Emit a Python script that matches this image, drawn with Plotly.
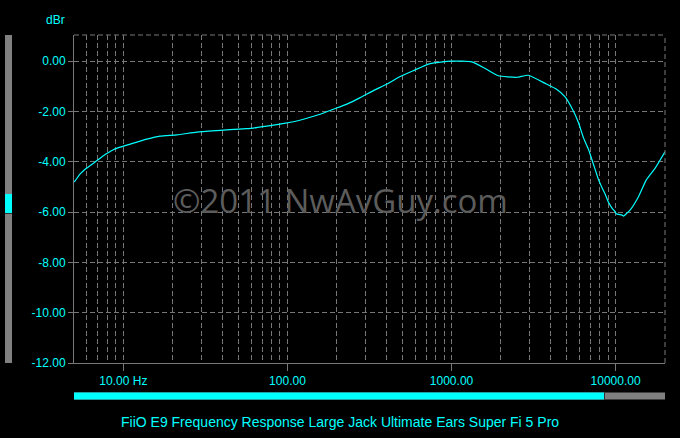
import plotly.graph_objects as go
import math

# ---- data ----
freq_hz = [5.0, 5.08, 5.44, 5.98, 6.72, 7.55, 8.69, 9.55, 11.5, 13.9, 16.7, 21.2, 28.0, 37.1,
           53.9, 62.0, 74.9, 90.3, 108.8, 131.3, 158.3, 190.8, 230.3, 277.6, 334.6, 403.8,
           486.7, 584, 741, 1000, 1330, 1605, 1926, 2504, 2936, 3780, 4345, 4935, 5545,
           5950, 6380, 6846, 7343, 7877, 8332, 8652, 9065, 9507, 9958, 10100, 10940, 11190,
           11740, 12290, 13810, 15390, 17460, 20000]
level_dbr = [-4.80, -4.76, -4.49, -4.25, -4.01, -3.76, -3.52, -3.42, -3.26, -3.10, -2.98, -2.93,
             -2.82, -2.76, -2.69, -2.66, -2.58, -2.50, -2.41, -2.27, -2.11, -1.91, -1.71, -1.45,
             -1.17, -0.91, -0.61, -0.38, -0.10, 0.0, -0.03, -0.29, -0.58, -0.64, -0.56, -0.91,
             -1.11, -1.43, -2.00, -2.46, -3.06, -3.52, -4.12, -4.72, -5.08, -5.30, -5.62, -5.84,
             -6.00, -6.07, -6.12, -6.16, -6.04, -5.91, -5.38, -4.72, -4.24, -3.60]

x_major = [10, 100, 1000, 10000]
x_major_text = ["10.00 Hz", "100.00", "1000.00", "10000.00"]
x_minor = [m * 10 ** d for d in range(0, 5) for m in range(2, 10)
           if 5 <= m * 10 ** d <= 20000 and m * 10 ** d not in x_major]
y_ticks = [0, -2, -4, -6, -8, -10, -12]
y_tick_text = ["0.00", "-2.00", "-4.00", "-6.00", "-8.00", "-10.00", "-12.00"]
title_text = "FiiO E9 Frequency Response Large Jack Ultimate Ears Super Fi 5 Pro"
watermark = "©2011 NwAvGuy.com"

# ---- layout geometry ----
W, H = 680, 438
L, R, T, B = 74, 665, 35, 363
CYAN = "#00ffff"
GRID = "#777777"
DASH = "5px,3px"
FONT = "Liberation Sans, Arial, sans-serif"


def px(x):
    return (x - L) / (R - L)


def py(y):
    return (B - y) / (B - T)


fig = go.Figure()
fig.add_trace(go.Scatter(x=freq_hz, y=level_dbr, mode="lines",
                         line=dict(color=CYAN, width=1.2, shape="spline", smoothing=0.5),
                         hoverinfo="skip", showlegend=False))

fig.update_layout(
    width=W, height=H,
    margin=dict(l=L, r=W - R, t=T, b=H - B),
    paper_bgcolor="black", plot_bgcolor="black",
    font=dict(family=FONT, color=CYAN, size=12),
    showlegend=False,
    hovermode=False,
    xaxis=dict(
        type="log", range=[math.log10(5), math.log10(20000)],
        tickmode="array", tickvals=x_major, ticktext=x_major_text,
        ticks="outside", ticklen=7, tickcolor=GRID, tickwidth=1,
        showgrid=True, gridcolor=GRID, griddash=DASH, gridwidth=1,
        minor=dict(tickmode="array", tickvals=x_minor, showgrid=True,
                   gridcolor=GRID, griddash=DASH, gridwidth=1, ticks=""),
        showline=True, linecolor=GRID, linewidth=1, mirror=False,
        zeroline=False, tickfont=dict(color=CYAN, size=12, family=FONT),
    ),
    yaxis=dict(
        range=[-12, 1.04],
        tickmode="array", tickvals=y_ticks, ticktext=y_tick_text,
        ticks="outside", ticklen=5, tickcolor=GRID, tickwidth=1,
        showgrid=True, gridcolor=GRID, griddash=DASH, gridwidth=1,
        showline=True, linecolor=GRID, linewidth=1, zeroline=False,
        tickfont=dict(color=CYAN, size=12, family=FONT),
    ),
)

shapes = [
    # dashed top and right frame
    dict(type="line", xref="paper", yref="paper", x0=0, x1=1, y0=1, y1=1,
         line=dict(color=GRID, width=1, dash=DASH)),
    dict(type="line", xref="paper", yref="paper", x0=1, x1=1, y0=0, y1=1,
         line=dict(color=GRID, width=1, dash=DASH)),
    # left scroll bar
    dict(type="rect", xref="paper", yref="paper", x0=px(5), x1=px(12), y0=py(363), y1=py(35),
         fillcolor="#808080", line=dict(width=0), layer="above"),
    dict(type="rect", xref="paper", yref="paper", x0=px(5), x1=px(12), y0=py(213), y1=py(194),
         fillcolor=CYAN, line=dict(width=0), layer="above"),
    dict(type="line", xref="paper", yref="paper", x0=px(5), x1=px(12), y0=py(213.5), y1=py(213.5),
         line=dict(color="#303030", width=1), layer="above"),
    # bottom scroll bar
    dict(type="rect", xref="paper", yref="paper", x0=px(74), x1=px(665), y0=py(399.5), y1=py(392.5),
         fillcolor="#808080", line=dict(width=0), layer="above"),
    dict(type="rect", xref="paper", yref="paper", x0=px(74), x1=px(604), y0=py(399.5), y1=py(392.5),
         fillcolor=CYAN, line=dict(width=0), layer="above"),
    dict(type="line", xref="paper", yref="paper", x0=px(604.5), x1=px(604.5), y0=py(399.5), y1=py(392.5),
         line=dict(color="#303030", width=1), layer="above"),
]
fig.update_layout(shapes=shapes)

fig.add_annotation(text="dBr", xref="paper", yref="paper", x=px(55), y=py(20),
                   showarrow=False, font=dict(color=CYAN, size=12, family=FONT),
                   xanchor="center", yanchor="middle")
fig.add_annotation(text=title_text, xref="paper", yref="paper", x=px(340), y=py(422),
                   showarrow=False, font=dict(color=CYAN, size=14, family=FONT),
                   xanchor="center", yanchor="middle")
fig.add_annotation(text=watermark, xref="paper", yref="paper", x=px(340), y=py(200),
                   showarrow=False, font=dict(color="#5c5c5c", size=33, family="Open Sans, sans-serif"),
                   xanchor="center", yanchor="middle")

fig.write_html("out.html", config={"displayModeBar": False, "staticPlot": True},
               post_script="document.body.style.margin='0px';document.body.style.background='black';")
